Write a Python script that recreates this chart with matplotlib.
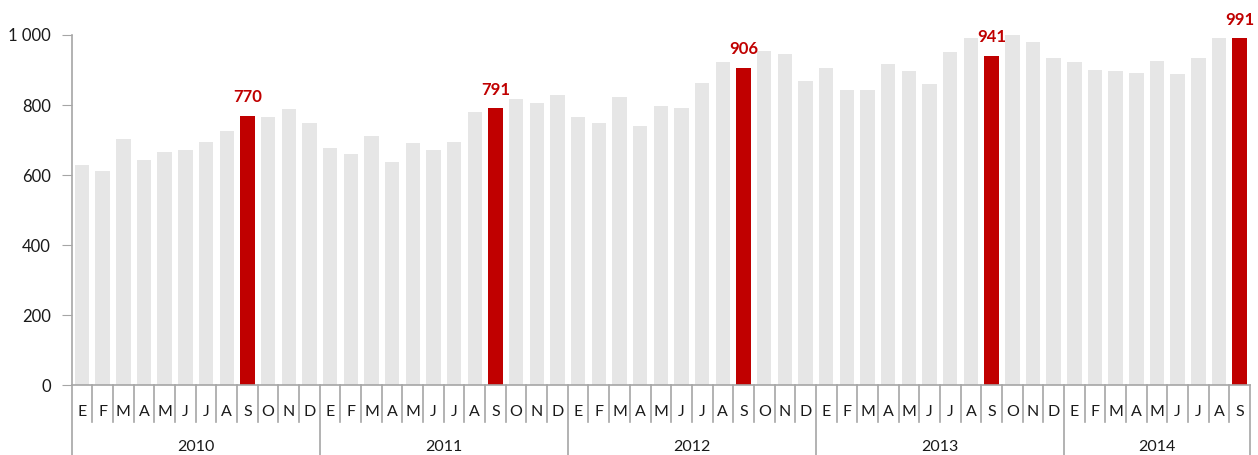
# Barras mensuales 2010-2014, con septiembre resaltado en rojo
import matplotlib
matplotlib.use('Agg')
import matplotlib.pyplot as plt
import matplotlib.transforms as mtransforms

plt.rcParams['font.family'] = ['Lato', 'DejaVu Sans']

# Datos
anios = ['2010', '2011', '2012', '2013', '2014']
meses = ['E', 'F', 'M', 'A', 'M', 'J', 'J', 'A', 'S', 'O', 'N', 'D']
valores_2010 = [628, 611, 703, 644, 665, 671, 694, 727, 770, 765, 790, 749]
valores_2011 = [678, 661, 711, 636, 690, 670, 694, 781, 791, 818, 806, 830]
valores_2012 = [765, 748, 822, 739, 797, 791, 863, 922, 906, 954, 947, 869]
valores_2013 = [905, 843, 843, 917, 897, 860, 950, 991, 941, 1000, 979, 934]
valores_2014 = [922, 900, 897, 892, 926, 889, 934, 991, 991]

series = [valores_2010, valores_2011, valores_2012, valores_2013, valores_2014]
valores = [v for s in series for v in s]
etiquetas_mes = [meses[i] for s in series for i in range(len(s))]
n = len(valores)
resaltar = [i for i, m in enumerate(etiquetas_mes) if m == 'S' and i % 12 == 8]

gris = '#e6e6e6'
rojo = '#c00000'
linea = '#a6a6a6'

fig = plt.figure(figsize=(12.58, 4.55), dpi=100)
ax = fig.add_axes([71.7 / 1258, 70 / 455, (1250 - 71.7) / 1258, 350 / 455])

colores = [rojo if i in resaltar else gris for i in range(n)]
ax.bar(range(n), valores, width=0.7, color=colores, zorder=2)

for i in resaltar:
    ax.text(i, valores[i] + 30, str(valores[i]), ha='center', va='bottom',
            color=rojo, fontsize=12, fontweight='bold')

ax.set_xlim(-0.5, n - 0.5)
ax.set_ylim(0, 1000)
ax.set_yticks(range(0, 1001, 200))
ax.set_yticklabels(['0', '200', '400', '600', '800', '1 000'])
ax.tick_params(axis='y', length=7, color=linea, labelsize=12, pad=8, labelcolor='#1a1a1a')
ax.set_xticks([])
for lado in ['top', 'right']:
    ax.spines[lado].set_visible(False)
for lado in ['left', 'bottom']:
    ax.spines[lado].set_color(linea)
    ax.spines[lado].set_linewidth(1.2)

# Eje de categorias en dos niveles
trans = mtransforms.blended_transform_factory(ax.transData, ax.transAxes)
for i, m in enumerate(etiquetas_mes):
    ax.text(i, -0.077, m, transform=trans, ha='center', va='center',
            fontsize=11.5, color='#1a1a1a')

inicio = 0
for anio, s in zip(anios, series):
    centro = inicio + (len(s) - 1) / 2
    ax.text(centro, -0.177, anio, transform=trans, ha='center', va='center',
            fontsize=11.5, color='#1a1a1a')
    inicio += len(s)

limites_anio = [-0.5]
for s in series:
    limites_anio.append(limites_anio[-1] + len(s))
for b in range(n + 1):
    x = b - 0.5
    y_fin = -0.2 if x in limites_anio else -0.106
    ax.plot([x, x], [0, y_fin], transform=trans, color=linea, lw=1.2, clip_on=False)

fig.savefig('out.png', dpi=100)
